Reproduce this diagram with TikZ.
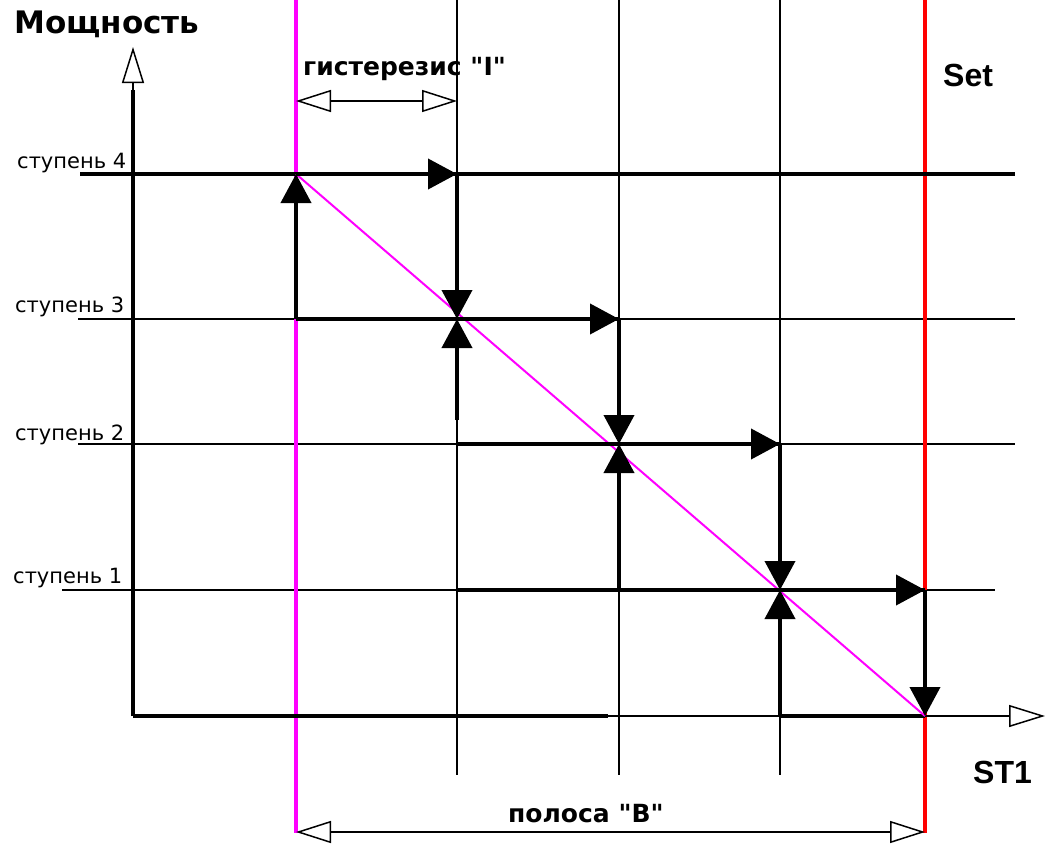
\documentclass[tikz,border=0pt]{standalone}
\usepackage{fontspec}
\newfontfamily\djvfont{DejaVu Sans}
\newfontfamily\arialfont{Liberation Sans}
\usetikzlibrary{arrows.meta}
\definecolor{magline}{RGB}{255,0,255}
\definecolor{redline}{RGB}{255,0,0}
\begin{document}
\begin{tikzpicture}[x=1pt,y=-1pt,
  thinline/.style={line width=1.5pt},
  midline/.style={line width=2.5pt},
  stairline/.style={line width=4pt,line cap=square},
  axisline/.style={line width=3.5pt,line cap=square},
  solidtip/.style={-{Triangle[length=29pt,width=30pt]}},
  opentip/.style={-{Triangle[open,fill=white,length=36pt,width=22pt]}},
  bothopen/.style={{Triangle[open,fill=white,length=35pt,width=22pt]}-{Triangle[open,fill=white,length=35pt,width=22pt]}},
  steplabel/.style={font=\djvfont\fontsize{21}{21}\selectfont, anchor=base west, inner sep=0pt},
  boldlabel/.style={font=\djvfont\bfseries\fontsize{25}{25}\selectfont, anchor=base west, inner sep=0pt},
  titlelabel/.style={font=\djvfont\bfseries\fontsize{31}{31}\selectfont, anchor=base west, inner sep=0pt},
  arlabel/.style={font=\arialfont\bfseries\fontsize{32}{32}\selectfont, anchor=base west, inner sep=0pt}
]
\useasboundingbox (0,0) rectangle (1047,846);
\fill[white] (0,0) rectangle (1047,846);

% coordinates
\coordinate (y4L) at (80,174);  \coordinate (y4R) at (1015,174);
\coordinate (y3L) at (78,319);  \coordinate (y3R) at (1015,319);
\coordinate (y2L) at (78,444);  \coordinate (y2R) at (1015,444);
\coordinate (y1L) at (62,590);  \coordinate (y1R) at (995,590);
\coordinate (g2T) at (457,0);   \coordinate (g2B) at (457,775);
\coordinate (g3T) at (619,0);   \coordinate (g3B) at (619,775);
\coordinate (g4T) at (780,0);   \coordinate (g4M) at (780,100); \coordinate (g4B) at (780,775);
\coordinate (magT) at (296,0);  \coordinate (magB) at (296,833);
\coordinate (redT) at (925,0);  \coordinate (redB) at (925,833);
\coordinate (O) at (133,716);   \coordinate (yA) at (133,90);  \coordinate (yTip) at (133,47);
\coordinate (xTip) at (1045,716); \coordinate (xCut) at (608,716);
\coordinate (p14) at (296,174); \coordinate (p13) at (296,319);
\coordinate (p24) at (457,174); \coordinate (p23) at (457,319); \coordinate (p2m) at (457,420);
\coordinate (p22) at (457,444); \coordinate (p21) at (457,590);
\coordinate (p33) at (619,319); \coordinate (p32) at (619,444); \coordinate (p31) at (619,590);
\coordinate (p42) at (780,444); \coordinate (p41) at (780,590); \coordinate (p40) at (780,716);
\coordinate (p51) at (925,590); \coordinate (p50) at (925,716);
\coordinate (hL) at (296,101);  \coordinate (hR) at (457,101);
\coordinate (bL) at (296,832);  \coordinate (bR) at (925,832);

% thin grid
\draw[thinline] (y3L) -- (y3R);
\draw[thinline] (y2L) -- (y2R);
\draw[thinline] (y1L) -- (y1R);
\draw[thinline] (g2T) -- (g2B);
\draw[thinline] (g3T) -- (g3B);
\draw[thinline] (g4T) -- (g4M);
\draw[midline] (g4M) -- (g4B);

% coloured verticals
\draw[magline, line width=3.5pt] (magT) -- (magB);
\draw[redline, line width=4.5pt] (redT) -- (redB);

% step 4 line
\draw[line width=3.5pt] (y4L) -- (y4R);

% axes
\draw[thinline, opentip] (O) -- (xTip);
\draw[axisline] (O) -- (xCut);
\draw[stairline] (p40) -- (p50);
\draw[axisline] (O) -- (yA);
\draw[thinline, opentip] (yA) -- (yTip);

% diagonal
\draw[magline, line width=2pt] (p14) -- (p50);

% stairs
\draw[stairline] (p13) -- (p33);
\draw[stairline] (p22) -- (p42);
\draw[stairline] (p21) -- (p51);
\draw[stairline, solidtip] (p13) -- (p14);
\draw[stairline, solidtip] (p14) -- (p24);
\draw[stairline, solidtip] (p24) -- (p23);
\draw[stairline, solidtip] (p2m) -- (p23);
\draw[stairline, solidtip] (p23) -- (p33);
\draw[stairline, solidtip] (p33) -- (p32);
\draw[stairline, solidtip] (p31) -- (p32);
\draw[stairline, solidtip] (p22) -- (p42);
\draw[stairline, solidtip] (p42) -- (p41);
\draw[stairline, solidtip] (p40) -- (p41);
\draw[stairline, solidtip] (p21) -- (p51);
\draw[stairline, solidtip] (p51) -- (p50);

% dimension arrows
\draw[thinline, bothopen] (hL) -- (hR);
\draw[thinline, bothopen] (bL) -- (bR);

% labels
\node[titlelabel] (pw) at (14,33) {Мощность};
\node[steplabel] (s4) at (17,168) {ступень 4};
\node[steplabel] (s3) at (15,312) {ступень 3};
\node[steplabel] (s2) at (15,440) {ступень 2};
\node[steplabel] (s1) at (13,583) {ступень 1};
\node[boldlabel] (hy) at (303,75) {гистерезис "I"};
\node[boldlabel] (bd) at (508,822) {полоса "B"};
\node[arlabel] (set) at (943,86) {Set};
\node[arlabel] (st1) at (973,783) {ST1};
\end{tikzpicture}
\end{document}
